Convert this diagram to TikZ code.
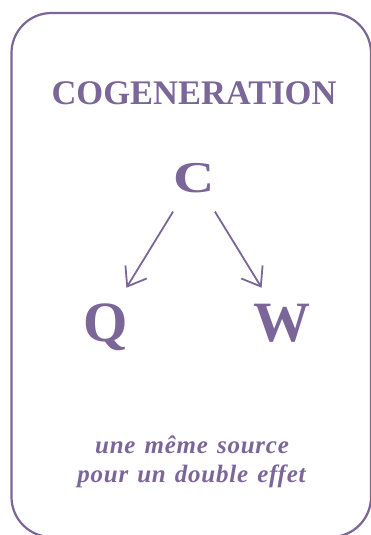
\documentclass[tikz,border=0pt]{standalone}
\usepackage{fontspec}
\setmainfont{Liberation Serif}
\newfontfamily\tagfont[LetterSpace=3,WordSpace=1.3]{Liberation Serif}
\usetikzlibrary{arrows.meta}
\definecolor{cogen}{RGB}{123,102,153}
\def\cardframe{(11.5,13) rectangle (371,537)}

\begin{document}
\begin{tikzpicture}[x=1pt,y=-1pt,
  letter/.style={font=\bfseries\fontsize{57}{57}\selectfont,text height=40pt,text depth=0pt,inner sep=0pt,text=cogen},
  flow/.style={draw=cogen,line width=1.8pt,-{Straight Barb[length=17pt,width=25pt]},shorten <=40pt,shorten >=39pt}]
  \useasboundingbox (0,0) rectangle (371,535);
         \draw[cogen,line width=2.2pt,rounded corners=40pt] \cardframe;
         \node[anchor=base,text=cogen,font=\bfseries\fontsize{34.5}{40}\selectfont] (title) at (194,104.5) {COGENERATION};
         \node[letter,font=\bfseries\fontsize{44}{44}\selectfont,text height=30pt] (C) at (194,177.5) {\scalebox{1.3}[1]{C}};
         \node[letter] (Q) at (106,321) {Q};   \node[letter] (W) at (282,321) {W};
         \draw[flow] (C.center) -- (Q.center);
         \draw[flow] (C.center) -- (W.center);
         \node[anchor=base,text=cogen,font=\tagfont\bfseries\itshape\fontsize{25}{29}\selectfont] (tagA) at (192,453) {une même source};
         \node[anchor=base,text=cogen,font=\tagfont\bfseries\itshape\fontsize{25}{29}\selectfont] (tagB) at (191.5,482.5) {pour un double effet};
\end{tikzpicture}
\end{document}
